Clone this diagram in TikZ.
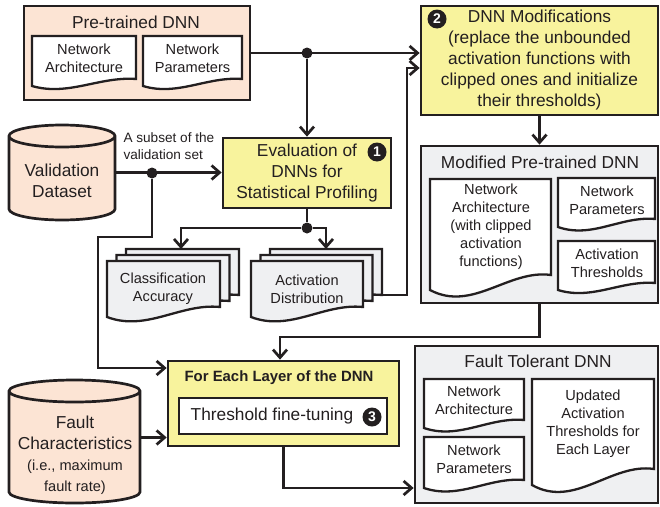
\documentclass[tikz,border=0pt]{standalone}
\usepackage{fontspec}
\setmainfont{Liberation Sans}
\usetikzlibrary{arrows.meta}

\definecolor{peach}{RGB}{252,228,212}
\definecolor{lemon}{RGB}{248,243,157}
\definecolor{pale}{RGB}{239,240,242}
\definecolor{ink}{RGB}{35,31,32}

% document outline: x1, y1, x2, left bottom, right bottom
\newcommand{\docpath}[5]{(#1,#2) -- (#3,#2) -- (#3,#5) .. controls ({(#1)+0.65*((#3)-(#1))},{(#5)-0.4*((#4)-(#5))}) and ({(#1)+0.35*((#3)-(#1))},{(#4)+1.5*((#4)-(#5))}) .. (#1,#4) -- cycle}
% cylinder outline: centre x, x radius, top ellipse y, bottom ellipse y
\newcommand{\cylpath}[4]{(#1-#2,#3) -- (#1-#2,#4) arc[start angle=180,end angle=360,x radius=#2pt,y radius=11pt] -- (#1+#2,#3) arc[start angle=0,end angle=180,x radius=#2pt,y radius=11pt] -- cycle (#1-#2,#3) arc[start angle=180,end angle=360,x radius=#2pt,y radius=11pt]}

\tikzset{
  box/.style={draw=ink, line width=2.7pt, inner sep=0pt},
  docline/.style={draw=ink, line width=2.3pt},
  wire/.style={draw=ink, line width=2.7pt},
  big/.style={text=ink, align=center, font=\fontsize{17.3}{21}\selectfont},
  small/.style={text=ink, align=center, font=\fontsize{14.6}{18}\selectfont},
  badge/.style={circle, fill=ink, text=white, inner sep=0pt, minimum size=19pt, font=\fontsize{14}{14}\bfseries\selectfont},
  dot/.style={circle, fill=ink, inner sep=0pt, minimum size=11pt}
}

\begin{document}
\begin{tikzpicture}[x=1pt, y=-1pt, >={Straight Barb[length=8pt,width=14pt]}]
\useasboundingbox (0,0) rectangle (660,506);

% pre-trained network
\node[box, fill=peach, minimum width=226pt, minimum height=94pt] (Pre) at (137,53) {};
\node[big] (PreTitle) at (136,22) {Pre-trained DNN};
\draw[docline, fill=white] \docpath{32}{36}{136}{86}{79};
\draw[docline, fill=white] \docpath{143}{36}{242}{86}{79};
\node[small] (PreArch) at (84,58) {Network\\Architecture};
\node[small] (PreParam) at (192.5,58) {Network\\Parameters};

% step 2
\node[box, fill=lemon, minimum width=237pt, minimum height=109pt, big] (Mod) at (539.5,60.5) {DNN Modifications\\(replace the unbounded\\activation functions with\\clipped ones and initialize\\their thresholds)};
\node[badge] (Two) at (437,19) {2};

% step 1
\node[box, fill=lemon, minimum width=168pt, minimum height=70pt, big] (Eval) at (307,173) {Evaluation of\\DNNs for\\Statistical Profiling};
\node[badge] (One) at (377,152) {1};

% modified network
\node[box, fill=pale, minimum width=237pt, minimum height=157pt] (Modified) at (539.5,224.5) {};
\node[big] (ModTitle) at (540,162) {Modified Pre-trained DNN};
\draw[docline, fill=white] \docpath{430}{179}{551}{290}{275};
\draw[docline, fill=white] \docpath{558}{178}{655}{227}{219};
\draw[docline, fill=white] \docpath{558}{241}{655}{290}{283};
\node[small] (ModArch) at (491,227) {Network\\Architecture\\(with clipped\\activation\\functions)};
\node[small] (ModParam) at (607,200) {Network\\Parameters};
\node[small] (ModThr) at (607,263) {Activation\\Thresholds};

% profiling results
\foreach \dx/\dy in {19/12, 9.5/6, 0/0} {
  \draw[docline, fill=pale] \docpath{107+\dx}{261-\dy}{220+\dx}{317-\dy}{307-\dy};
  \draw[docline, fill=pale] \docpath{251+\dx}{261-\dy}{363+\dx}{317-\dy}{307-\dy};
}
\node[small] (Acc) at (163,289) {Classification\\Accuracy};
\node[small] (Dist) at (307,289) {Activation\\Distribution};

% data sets
\draw[box, fill=peach] \cylpath{62}{53}{136}{209};
\node[minimum width=106pt, minimum height=95pt, inner sep=0pt] (Val) at (62,172.5) {};
\node[big] (ValText) at (62,181) {Validation\\Dataset};
\draw[box, fill=peach] \cylpath{74.5}{65.5}{391}{492};
\node[minimum width=131pt, minimum height=123pt, inner sep=0pt] (Fault) at (74.5,441.5) {};
\node[big] (FaultText) at (75,455) {Fault\\Characteristics\\\fontsize{14.6}{18}\selectfont (i.e., maximum\\\fontsize{14.6}{18}\selectfont fault rate)};
\node[anchor=west, align=left, text=ink, font=\fontsize{13.6}{16.3}\selectfont] (Subset) at (120,146) {A subset of the\\validation set};

% step 3
\node[box, fill=lemon, minimum width=231pt, minimum height=85pt] (Layer) at (283.5,403.5) {};
\node[text=ink, font=\fontsize{14.9}{18}\bfseries\selectfont] (LayerTitle) at (279,378) {For Each Layer of the DNN};
\node[box, line width=2.3pt, fill=white, minimum width=208pt, minimum height=36pt, big] (Tune) at (283,416) {Threshold fine-tuning\hspace*{22pt}};
\node[badge] (Three) at (372,417) {3};

% fault tolerant network
\node[box, fill=pale, minimum width=243pt, minimum height=157pt] (FT) at (536.5,424.5) {};
\node[big] (FTTitle) at (538,361) {Fault Tolerant DNN};
\draw[docline, fill=white] \docpath{424}{379}{524}{428}{420};
\draw[docline, fill=white] \docpath{424}{437}{524}{488}{480};
\draw[docline, fill=white] \docpath{532}{379}{654}{485}{469};
\node[small] (FTArch) at (474,400) {Network\\Architecture};
\node[small] (FTParam) at (474,459) {Network\\Parameters};
\node[small] (FTThr) at (593,424) {Updated\\Activation\\Thresholds for\\Each Layer};

% junctions and bends
\node[dot] (J1) at (307,53) {};
\node[dot] (J2) at (152,173) {};
\node[dot] (J3) at (307,228) {};
\coordinate (B1) at (98,237);
\coordinate (B2) at (407,68);
\coordinate (B3) at (280,337);
\coordinate (B4) at (283.5,488);
\coordinate (AccTop) at (181,249);
\coordinate (DistTop) at (326,249);
\coordinate (DistOut) at (382,295);

\draw[wire,->] (Pre.east) -- (Pre.east -| Mod.west);
\draw[wire,->] (J1) -- (Eval);
\draw[wire,->] (Val.east) -- (Val.east -| Eval.west);
\draw[wire,->] (J2) |- (B1) |- ([yshift=35.5pt]Layer.west);
\draw[wire] (Eval) -- (J3);
\draw[wire,->] (J3) -| (AccTop);
\draw[wire,->] (J3) -| (DistTop);
\draw[wire,->] (DistOut) -| (B2) -- (B2 -| Mod.west);
\draw[wire,->] (Mod) -- (Modified);
\draw[wire,->] (Modified.south) |- (B3) -- (B3 |- Layer.north);
\draw[wire,->] ([yshift=4pt]Fault.east) -- ([yshift=4pt]Fault.east -| Layer.west);
\draw[wire,->] (Layer) -- (B4) -- (B4 -| FT.west);
\end{tikzpicture}
\end{document}
